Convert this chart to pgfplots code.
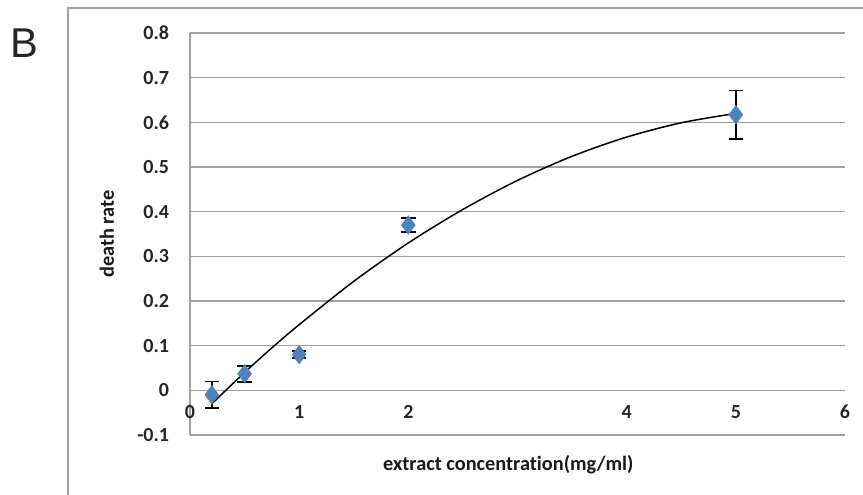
\documentclass[border=0pt]{standalone}
\usepackage{pgfplots}
\pgfplotsset{compat=1.18}
\usepackage{fontspec}
\setmainfont{Carlito}[Ligatures=CommonOff]
\newfontfamily\arialfont{Liberation Sans}
\definecolor{xlblue}{HTML}{4F81BD}
\definecolor{gridgray}{HTML}{A0A0A0}
\begin{document}
\begin{tikzpicture}[x=0.6pt,y=0.6pt]
\useasboundingbox (0,0) rectangle (863,495);  % 863x495 px, 1 px = 0.6pt
% outer chart frame (left and top edges only show)
\draw[gridgray, line width=1.2pt] (68,-5) -- (68,487) -- (870,487);
\node[anchor=base west, inner sep=0pt, font=\arialfont\fontsize{25}{28}\selectfont, text=black!85] at (10,437) {B};
\begin{axis}[
      at={(190*0.6pt,60*0.6pt)}, anchor=south west,
      width=393pt, height=241.2pt, scale only axis,
      xmin=0, xmax=6, ymin=-0.1, ymax=0.8,
      xtick={0,1,2,4,5,6},
      ytick={-0.1,0,0.1,0.2,0.3,0.4,0.5,0.6,0.7,0.8},
      yticklabels={-0.1,0,0.1,0.2,0.3,0.4,0.5,0.6,0.7,0.8},
      axis x line=bottom, axis y line=left,
      axis line style={gridgray, line width=0.9pt, -},
      major tick length=0pt,
      ymajorgrids,
      major grid style={gridgray, line width=0.9pt},
      tick label style={font=\fontsize{12}{14}\selectfont\bfseries, text=black!85},
      /pgf/number format/assume math mode=true,
      xticklabel style={anchor=center, yshift=14pt},
      yticklabel style={anchor=east, xshift=-9pt},
      xlabel={extract concentration(mg/ml)},
      ylabel={death rate},
      label style={font=\fontsize{12.2}{14}\selectfont\bfseries, text=black!90},
      x label style={at={(axis description cs:0.486,-0.075)}, anchor=center},
      y label style={at={(axis description cs:-0.127,0.5)}, anchor=center},
      clip=false,
      ]
% fitted trend line (2nd order polynomial as drawn)
\addplot[black, line width=0.9pt, smooth] coordinates {
  (0.2,-0.030) (0.5,0.040) (0.75,0.095) (1,0.147) (1.5,0.244) (2,0.330)
  (2.5,0.405) (3,0.470) (3.5,0.524) (4,0.567) (4.5,0.599) (5,0.620)};
% measured points with error bars
\addplot[only marks, mark=diamond*, mark size=5.5pt,
         mark options={fill=xlblue, draw=xlblue},
         error bars/.cd, y dir=both, y explicit,
         error bar style={black, line width=0.9pt},
         error mark options={black, line width=0.9pt, mark size=4.3pt, rotate=90}]
  coordinates {
  (0.2,-0.010) +- (0,0.030)
  (0.5,0.037)  +- (0,0.018)
  (1,0.080)    +- (0,0.008)
  (2,0.370)    +- (0,0.016)
  (5,0.617)    +- (0,0.054)};
\end{axis}
\end{tikzpicture}
\end{document}
